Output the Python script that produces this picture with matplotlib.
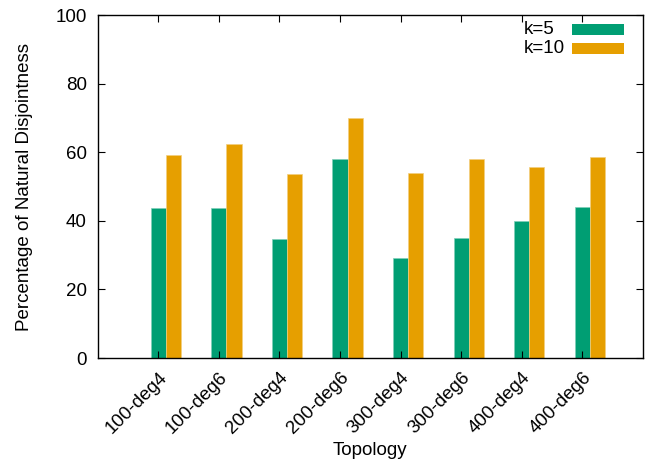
import matplotlib

matplotlib.use("Agg")
import matplotlib.pyplot as plt
import numpy as np
from matplotlib.patches import Rectangle

topologies = ["100-deg4", "100-deg6", "200-deg4", "200-deg6",
              "300-deg4", "300-deg6", "400-deg4", "400-deg6"]
k5 = [43.7, 43.6, 34.8, 58.0, 29.2, 35.1, 39.9, 44.1]
k10 = [59.1, 62.4, 53.6, 70.0, 53.9, 57.9, 55.8, 58.6]

GREEN = "#009e73"
ORANGE = "#e69f00"

plt.rcParams["font.family"] = ["Liberation Sans", "DejaVu Sans"]
plt.rcParams["font.size"] = 13.5

fig = plt.figure(figsize=(6.56, 4.62), dpi=100)
ax = fig.add_axes([0.149, 0.225, 0.831, 0.7425])

x = np.arange(len(topologies))
width = 0.25
ax.bar(x, k5, width, color=GREEN, edgecolor="#7fcfb9", linewidth=0.5)
ax.bar(x + width, k10, width, color=ORANGE, edgecolor="#f3cf7f", linewidth=0.5)

ax.set_xlim(-1, 8)
ax.set_ylim(0, 100)
ax.set_yticks(np.arange(0, 101, 20))
ax.set_xticks(x)
ax.set_xticklabels(topologies, rotation=45, ha="right", rotation_mode="anchor")
ax.tick_params(direction="in", top=True, right=True, length=5, width=0.8)
ax.tick_params(axis="x", pad=8)
ax.tick_params(axis="y", pad=8)
for s in ax.spines.values():
    s.set_linewidth(1)

ax.set_xlabel("Topology", labelpad=3)
ax.set_ylabel("Percentage of Natural Disjointness", labelpad=16)

# gnuplot-style key: label on the left, wide colour sample on the right
key = [("k=5", GREEN, 0.959, 0.9417), ("k=10", ORANGE, 0.901, 0.887)]
for label, color, ty, ry in key:
    ax.text(0.7817, ty, label, transform=ax.transAxes, ha="left", va="center")
    ax.add_patch(Rectangle((0.8697, ry), 0.0954, 0.031, transform=ax.transAxes,
                           facecolor=color, edgecolor="none"))

fig.savefig("out.png", dpi=100)
